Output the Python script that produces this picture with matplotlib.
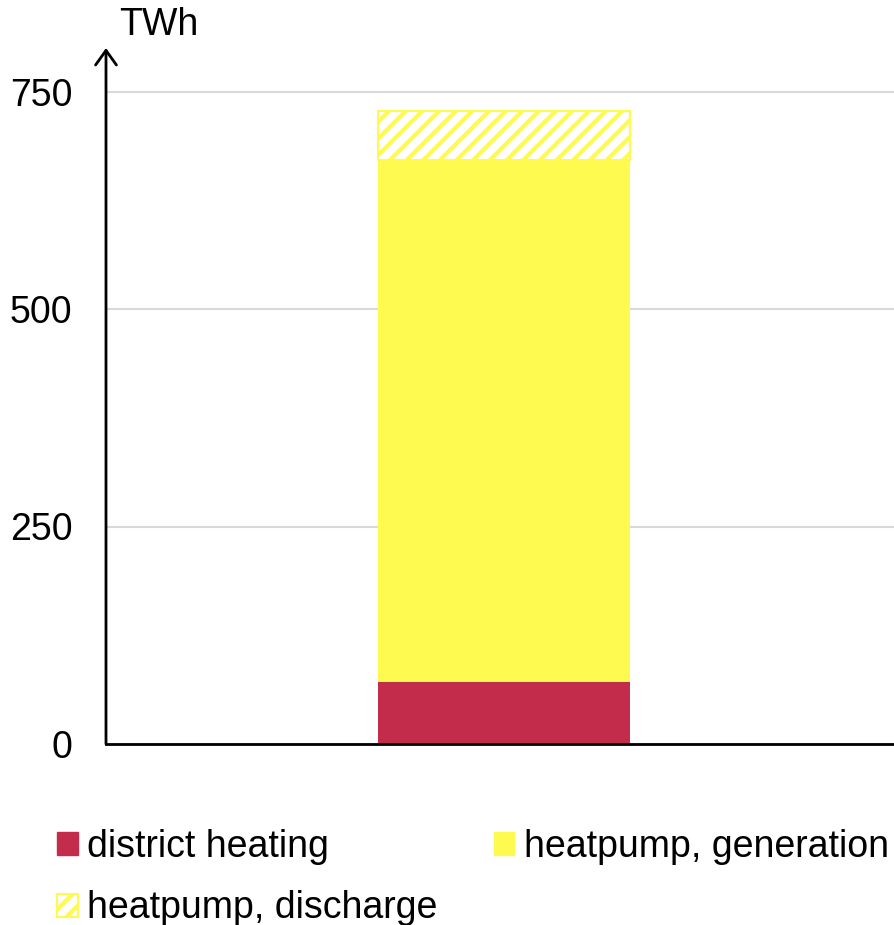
import matplotlib
matplotlib.use("Agg")
import matplotlib.pyplot as plt
from matplotlib.patches import Patch

plt.rcParams['font.family'] = ['Liberation Sans', 'DejaVu Sans']
plt.rcParams['hatch.linewidth'] = 3.0

categories = [""]
district_heating = [71]
heatpump_generation = [600]
heatpump_discharge = [57]
yticks = [0, 250, 500, 750]

red = '#C32D4B'
yellow = '#FFFA50'
fs = 27

fig = plt.figure(figsize=(8.95, 9.25), dpi=100)
ax = fig.add_axes([106/895, 1-744/925, 1-106/895, (744-48)/925])

x = range(len(categories))
w = 0.32
ax.bar(x, district_heating, width=w, color=red, zorder=3)
ax.bar(x, heatpump_generation, width=w, bottom=district_heating, color=yellow, zorder=3)
bottom2 = [a + b for a, b in zip(district_heating, heatpump_generation)]
ax.bar(x, heatpump_discharge, width=w, bottom=bottom2, color='white',
       edgecolor=yellow, hatch='//', linewidth=1.5, zorder=3)

ax.set_xlim(-0.5044, 0.4956)
ax.set_ylim(0, 800)
ax.set_yticks(yticks)
ax.set_yticklabels([str(v) for v in yticks], fontsize=fs)
ax.set_xticks([])
ax.tick_params(axis='y', length=0, pad=24)
ax.grid(axis='y', color='#D9D9D9', linewidth=1.5, zorder=0)
for s in ['top', 'right']:
    ax.spines[s].set_visible(False)
ax.spines['left'].set_visible(False)
ax.spines['bottom'].set_linewidth(2)
ax.spines['bottom'].set_zorder(4)

ax.annotate('', xy=(0, 1.0), xycoords='axes fraction', xytext=(0, 0),
            textcoords='axes fraction',
            arrowprops=dict(arrowstyle='->,head_length=1.05,head_width=0.75',
                            color='black', lw=2, shrinkA=0, shrinkB=0))
fig.text(119/895, 1-25/925, 'TWh', fontsize=fs, va='center', ha='left')

handles = [Patch(facecolor=red, edgecolor=red, label='district heating'),
           Patch(facecolor='white', edgecolor=yellow, hatch='//', linewidth=1.5,
                 label='heatpump, discharge'),
           Patch(facecolor=yellow, edgecolor=yellow, label='heatpump, generation')]
fig.legend(handles=handles, ncol=2, loc='upper left',
           bbox_to_anchor=(57/895, 1-829/925), frameon=False, fontsize=fs,
           handlelength=0.55, handleheight=0.55, handletextpad=0.25,
           columnspacing=1.5, labelspacing=0.68, borderaxespad=0, borderpad=0)

fig.savefig('out.png', dpi=100)
